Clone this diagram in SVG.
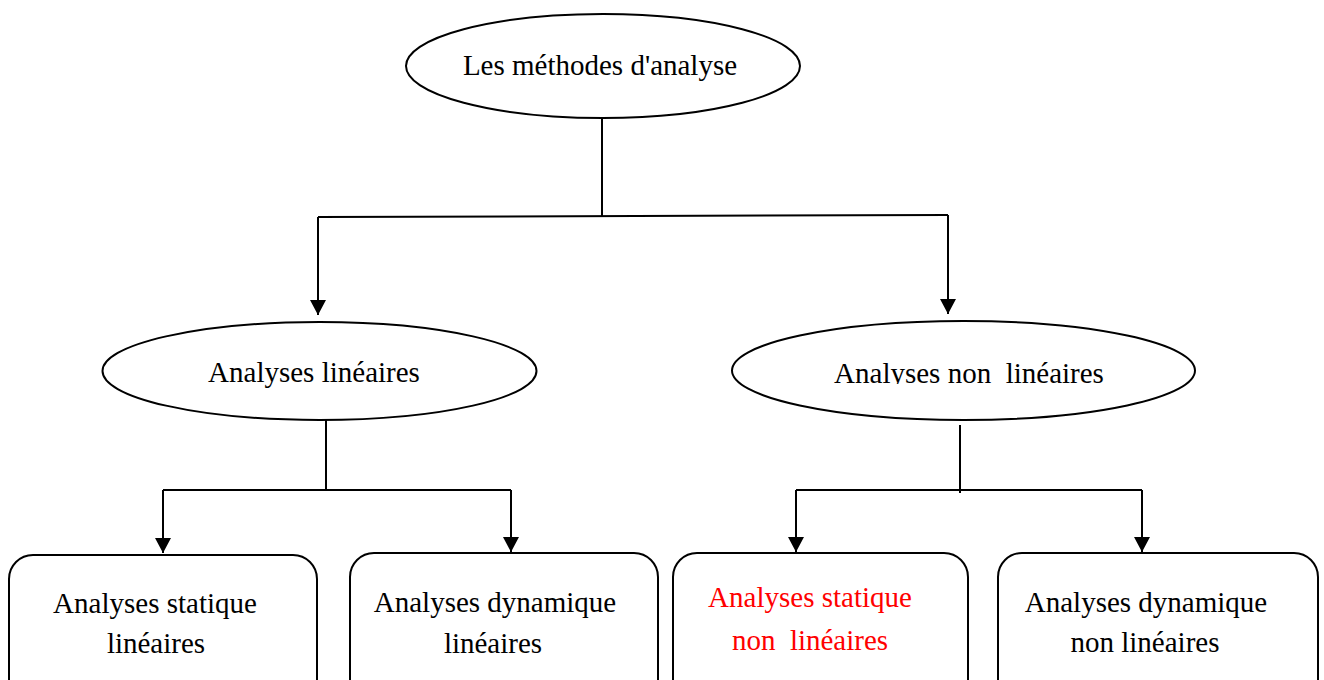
<svg xmlns="http://www.w3.org/2000/svg" width="1324" height="680" viewBox="0 0 1324 680">
  <style>
    .shape { fill: #ffffff; stroke: #000000; stroke-width: 2; }
    .wire { fill: none; stroke: #000000; stroke-width: 2; }
    .label { font-family: "Liberation Serif", "Times New Roman", serif; font-size: 29px; fill: #000000; text-anchor: middle; }
    .red { fill: #ff0000; }
  </style>
  <defs>
    <marker id="arrow" viewBox="0 0 15 16" refX="15" refY="8" markerWidth="15" markerHeight="16" markerUnits="userSpaceOnUse" orient="auto">
      <path d="M0,0 L15,8 L0,16 Z" fill="#000000"/>
    </marker>
    <!-- the descender of this label is cut off at the baseline -->
    <clipPath id="clip-nonlin">
      <rect x="800" y="340" width="340" height="44"/>
    </clipPath>
  </defs>

  <rect width="1324" height="680" fill="#ffffff"/>

  <g id="connectors">
    <path class="wire" d="M602,118 L602,216"/>
    <path class="wire" d="M318,217 L948,215"/>
    <path class="wire" d="M318,217 L318,315" marker-end="url(#arrow)"/>
    <path class="wire" d="M948,215 L948,314" marker-end="url(#arrow)"/>

    <path class="wire" d="M326,420 L326,491"/>
    <path class="wire" d="M163,490 L511,490"/>
    <path class="wire" d="M163,490 L163,553" marker-end="url(#arrow)"/>
    <path class="wire" d="M511,490 L511,552" marker-end="url(#arrow)"/>

    <path class="wire" d="M960,425 L960,493"/>
    <path class="wire" d="M796,490 L1142,490"/>
    <path class="wire" d="M796,490 L796,552" marker-end="url(#arrow)"/>
    <path class="wire" d="M1142,490 L1142,552" marker-end="url(#arrow)"/>
  </g>

  <g id="node-methodes">
    <ellipse class="shape" cx="603" cy="66" rx="197" ry="52"/>
    <text class="label" x="600" y="75">Les méthodes d'analyse</text>
  </g>

  <g id="node-lineaires">
    <ellipse class="shape" cx="319.5" cy="371" rx="217" ry="49"/>
    <text class="label" x="314" y="382">Analyses linéaires</text>
  </g>

  <g id="node-non-lineaires">
    <ellipse class="shape" cx="963.5" cy="370.5" rx="231.5" ry="49.5"/>
    <text class="label" x="969" y="383" clip-path="url(#clip-nonlin)" xml:space="preserve">Analyses non  linéaires</text>
  </g>

  <g id="node-statique-lin">
    <rect class="shape" x="9" y="555" width="308" height="150" rx="24" ry="24"/>
    <text class="label" x="155" y="613">Analyses statique</text>
    <text class="label" x="156" y="653">linéaires</text>
  </g>

  <g id="node-dynamique-lin">
    <rect class="shape" x="350" y="553" width="308" height="150" rx="24" ry="24"/>
    <text class="label" x="495" y="612">Analyses dynamique</text>
    <text class="label" x="493" y="653">linéaires</text>
  </g>

  <g id="node-statique-nonlin">
    <rect class="shape" x="673" y="553" width="295" height="150" rx="24" ry="24"/>
    <text class="label red" x="810" y="607">Analyses statique</text>
    <text class="label red" x="810" y="650" xml:space="preserve">non  linéaires</text>
  </g>

  <g id="node-dynamique-nonlin">
    <rect class="shape" x="998" y="553" width="320" height="150" rx="24" ry="24"/>
    <text class="label" x="1146" y="612">Analyses dynamique</text>
    <text class="label" x="1145" y="652">non linéaires</text>
  </g>
</svg>
